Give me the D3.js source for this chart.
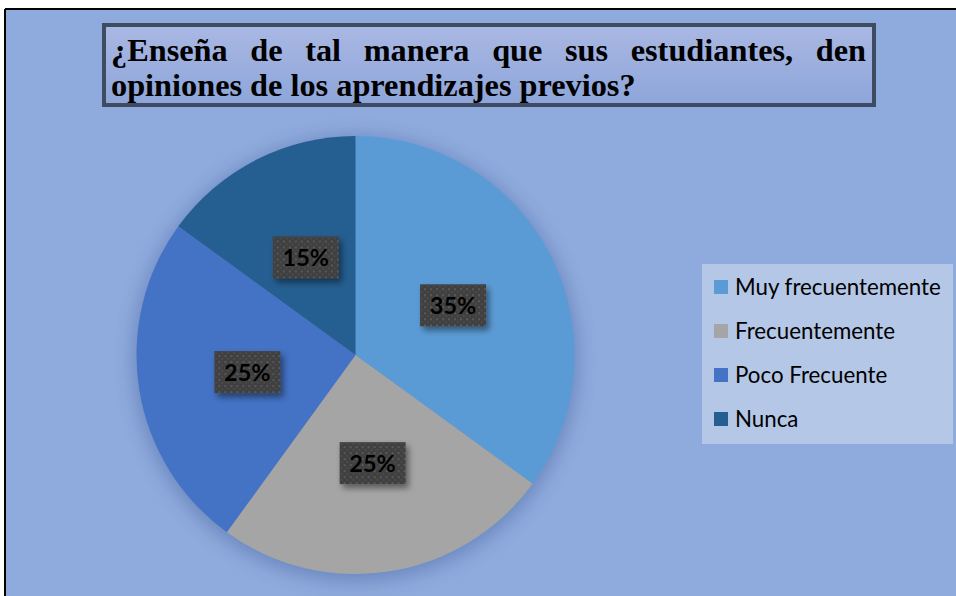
<!DOCTYPE html>
<html><head><meta charset="utf-8">
<script src="https://cdn.jsdelivr.net/npm/d3@7"></script>
<style>html,body{margin:0;padding:0;background:#fff;overflow:hidden}</style>
</head><body>
<svg id="c" width="956" height="596"></svg>
<script>
const categories = ["Muy frecuentemente", "Frecuentemente", "Poco Frecuente", "Nunca"];
const values = [35, 25, 25, 15];
const labels = ["35%", "25%", "25%", "15%"];
const colors = ["#5B9BD5", "#A5A5A5", "#4472C4", "#255E91"];
const titleLines = ["¿Enseña de tal manera que sus estudiantes, den", "opiniones de los aprendizajes previos?"];

const svg = d3.select("#c");
const defs = svg.append("defs");

const tg = defs.append("linearGradient").attr("id","tg").attr("x1",0).attr("y1",0).attr("x2",0).attr("y2",1);
tg.append("stop").attr("offset","0%").attr("stop-color","#AAB8E3");
tg.append("stop").attr("offset","100%").attr("stop-color","#8DA5DA");

const glow = defs.append("filter").attr("id","glow").attr("x","-30%").attr("y","-30%").attr("width","160%").attr("height","160%");
glow.append("feGaussianBlur").attr("stdDeviation",9);

const ls = defs.append("filter").attr("id","ls").attr("x","-30%").attr("y","-30%").attr("width","170%").attr("height","170%");
ls.append("feDropShadow").attr("dx",3).attr("dy",4).attr("stdDeviation",3).attr("flood-color","#000").attr("flood-opacity",0.45);

const pat = defs.append("pattern").attr("id","dots").attr("patternUnits","userSpaceOnUse").attr("width",6).attr("height",6);
pat.append("rect").attr("width",6).attr("height",6).attr("fill","#404040");
pat.append("rect").attr("x",1).attr("y",1).attr("width",2).attr("height",2).attr("fill","#595959");
pat.append("rect").attr("x",4).attr("y",4).attr("width",1.5).attr("height",1.5).attr("fill","#525252");

svg.append("rect").attr("x",5).attr("y",9).attr("width",960).attr("height",600).attr("fill","#8FAADC");
svg.append("line").attr("x1",5).attr("y1",9).attr("x2",960).attr("y2",9).attr("stroke","#000").attr("stroke-width",2);
svg.append("line").attr("x1",5).attr("y1",9).attr("x2",5).attr("y2",600).attr("stroke","#000").attr("stroke-width",2);

// title box
svg.append("rect").attr("x",104).attr("y",25).attr("width",770).attr("height",80)
  .attr("fill","url(#tg)").attr("stroke","#3E4C62").attr("stroke-width",4);
const tt = svg.append("g").attr("font-family","'Liberation Serif','Times New Roman',serif")
  .attr("font-weight","bold").attr("font-size",32.3).attr("fill","#000");
const l1 = tt.append("text").attr("x",111).attr("y",61).text(titleLines[0]);
const l2 = tt.append("text").attr("x",111).attr("y",96).text(titleLines[1]);
(function(){
  const target = 866 - 111;
  const w = l1.node().getComputedTextLength();
  const gaps = titleLines[0].split(" ").length - 1;
  l1.attr("word-spacing", (target - w) / gaps);
})();

// pie
const cx = 355.5, cy = 355, r = 219;
const pie = d3.pie().sort(null).value(d => d)(values);
const arc = d3.arc().innerRadius(0).outerRadius(r);
const pg = svg.append("g").attr("transform",`translate(${cx},${cy})`);
pg.append("circle").attr("cx",0).attr("cy",4).attr("r",r+4).attr("fill","#2F4F8F").attr("opacity",0.35).attr("filter","url(#glow)");
pg.selectAll("path.s").data(pie).join("path").attr("class","s")
  .attr("d",arc).attr("fill",(d,i)=>colors[i]);

const lg = pg.selectAll("g.l").data(pie).join("g").attr("class","l")
  .attr("transform",d=>{const c=arc.centroid(d);return `translate(${c[0]},${c[1]})`;});
lg.append("rect").attr("x",-33).attr("y",-21).attr("width",66).attr("height",42)
  .attr("fill","url(#dots)").attr("filter","url(#ls)");
lg.append("text").attr("text-anchor","middle").attr("y",9)
  .attr("font-family","Lato,'Open Sans',sans-serif").attr("font-weight","bold").attr("font-size",23.5)
  .attr("fill","#000").text((d,i)=>labels[i]);

// legend
const leg = svg.append("g");
leg.append("rect").attr("x",702).attr("y",264).attr("width",251).attr("height",180).attr("fill","#B4C7E7");
const items = leg.selectAll("g.i").data(categories).join("g").attr("class","i")
  .attr("transform",(d,i)=>`translate(714,${280 + i*44})`);
items.append("rect").attr("width",14).attr("height",14).attr("fill",(d,i)=>colors[i]);
items.append("text").attr("x",21).attr("y",14.5).attr("font-family","Lato,sans-serif")
  .attr("font-size",22.3).attr("fill","#000").text(d=>d);
</script>
</body></html>
